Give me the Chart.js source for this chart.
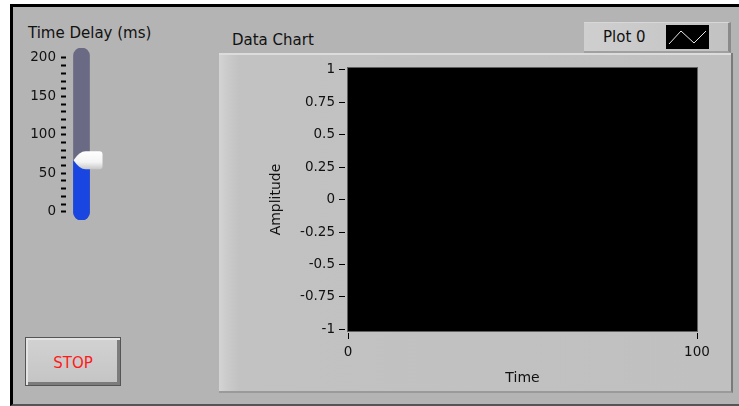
<!DOCTYPE html>
<html>
<head>
<meta charset="utf-8">
<script src="https://cdn.jsdelivr.net/npm/chart.js@4"></script>
<style>
  html, body { margin: 0; padding: 0; background: #ffffff; }
  body { width: 739px; height: 406px; position: relative; overflow: hidden; font-family: "DejaVu Sans", sans-serif; }
  #panel { position: absolute; left: 10px; top: 4px; width: 740px; height: 397px; background: #b4b4b4;
           border-left: 3px solid #000; border-top: 3px solid #000; border-bottom: 2px solid #555; }
  .lbl { position: absolute; font-size: 15px; color: #111; white-space: nowrap; }
  #frame { position: absolute; left: 219px; top: 53px; width: 514px; height: 340px;
           background: linear-gradient(to right, #d4d4d4 0px, #cbcbcb 8px, #c2c2c2 20px, #c0c0c0 100%);
           border-right: 2px solid #7a7a7a; border-bottom: 2px solid #9a9a9a; box-sizing: border-box; }
  #frameTop { position: absolute; left: 219px; top: 53px; width: 512px; height: 2px; background: #dcdcdc; }
  #legend { position: absolute; left: 584px; top: 22px; width: 147px; height: 31px; box-sizing: border-box;
            background: linear-gradient(to right, #cfcfcf, #c2c2c2); border-right: 3px solid #8a8a8a; border-top: 1px solid #d8d8d8; border-bottom: 2px solid #a0a0a0; }
  #legText { position: absolute; left: 19px; top: 5px; font-size: 15px; color: #111; }
  #legSwatch { position: absolute; left: 82px; top: 2px; width: 43px; height: 24px; background: #000; }
  #stop { position: absolute; left: 25px; top: 337px; width: 96px; height: 49px; box-sizing: border-box;
          background: linear-gradient(#d2d2d2, #c4c4c4); border: 1px solid #555;
          box-shadow: inset 2px 2px 0 #e4e4e4, inset -3px -3px 0 #7c7c7c; 
          color: #ff1a1a; font-size: 15px; text-align: center; line-height: 50px; }
  canvas { position: absolute; }
</style>
</head>
<body>
<div id="panel"></div>
<div class="lbl" id="sliderLabel" style="left:28px; top:24px;"></div>
<div id="frame"></div>
<div id="frameTop"></div>
<div class="lbl" id="chartLabel" style="left:232px; top:31px;"></div>
<div id="legend"><span id="legText"></span><canvas id="legSwatch" width="43" height="24"></canvas></div>
<div id="stop"></div>
<div style="position:absolute;left:20px;top:41px;width:90px;height:190px;"><canvas id="slider"></canvas></div>
<div style="position:absolute;left:219px;top:53px;width:514px;height:340px;"><canvas id="chart"></canvas></div>
<script>
// ---- data ----
const sliderTitle = "Time Delay (ms)";
const sliderTickValues = [0, 50, 100, 150, 200];
const sliderValue = [67];
const chartTitle = "Data Chart";
const seriesNames = ["Plot 0"];
const plot0Values = [];           // chart is empty
const xTickValues = [0, 100];
const yTickValues = [1, 0.75, 0.5, 0.25, 0, -0.25, -0.5, -0.75, -1];
const xAxisTitle = "Time";
const yAxisTitle = "Amplitude";
const buttonText = "STOP";

document.getElementById('sliderLabel').textContent = sliderTitle;
document.getElementById('chartLabel').textContent = chartTitle;
document.getElementById('legText').textContent = seriesNames[0];
document.getElementById('stop').textContent = buttonText;

// legend swatch: small white triangle-wave glyph
(function(){
  const c = document.getElementById('legSwatch').getContext('2d');
  c.fillStyle = '#000'; c.fillRect(0,0,43,24);
  c.strokeStyle = '#e8e8e8'; c.lineWidth = 1;
  c.beginPath(); c.moveTo(3,19); c.lineTo(15,6); c.lineTo(28,18); c.lineTo(40,6); c.stroke();
})();

const FONT = { family: "DejaVu Sans", size: 13.5 };
const TFONT = { family: "DejaVu Sans", size: 14 };

// ---- main chart ----
const plotBg = {
  id: 'plotBg',
  beforeDraw(chart) {
    const a = chart.chartArea, ctx = chart.ctx;
    ctx.save();
    ctx.fillStyle = '#000';
    ctx.fillRect(a.left, a.top, a.right - a.left, a.bottom - a.top);
    ctx.strokeStyle = '#606060'; ctx.lineWidth = 1;
    ctx.strokeRect(a.left - 0.5, a.top - 0.5, a.right - a.left + 1, a.bottom - a.top + 1);
    ctx.restore();
  }
};

new Chart(document.getElementById('chart'), {
  type: 'line',
  data: { datasets: [{ label: seriesNames[0], data: plot0Values, borderColor: '#ffffff', borderWidth: 1, pointRadius: 0 }] },
  options: {
    responsive: true, maintainAspectRatio: false, animation: false,
    layout: { padding: { left: 49, right: 36, top: 15, bottom: 0 } },
    plugins: { legend: { display: false }, tooltip: { enabled: false } },
    scales: {
      x: {
        type: 'linear', min: 0, max: 100,
        afterBuildTicks(s) { s.ticks = xTickValues.map(v => ({ value: v })); },
        afterFit(s) { s.height = 62; },
        grid: { display: true, drawOnChartArea: false, drawTicks: true, tickLength: 8, tickColor: '#000', tickWidth: 1, tickBorderDash: [0, 2, 6, 100] },
        border: { display: false },
        ticks: { color: '#111', font: FONT, padding: 5, maxRotation: 0 },
        title: { display: true, text: xAxisTitle, color: '#111', font: TFONT, padding: { top: 0, bottom: 6 } }
      },
      y: {
        type: 'linear', min: -1.013, max: 1.015,
        afterBuildTicks(s) { s.ticks = yTickValues.map(v => ({ value: v })); },
        afterFit(s) { s.width = 80; },
        grid: { display: true, drawOnChartArea: false, drawTicks: true, tickLength: 9, tickColor: '#000', tickWidth: 1, tickBorderDash: [6, 100] },
        border: { display: false },
        ticks: { color: '#111', font: FONT, padding: 4, callback: v => String(v) },
        title: { display: true, text: yAxisTitle, color: '#111', font: TFONT, padding: { top: 0, bottom: 0 } }
      }
    }
  },
  plugins: [plotBg]
});

// ---- slider (vertical fill bar) ----
const thumb = {
  id: 'thumb',
  afterDatasetsDraw(chart) {
    const ctx = chart.ctx;
    const y = chart.scales.y.getPixelForValue(sliderValue[0]);
    const x = chart.scales.x.getPixelForValue(0);
    const l = x - 8, r = x + 21, t = y - 9, b = y + 9;
    ctx.save();
    const g = ctx.createLinearGradient(0, t, 0, b);
    g.addColorStop(0, '#ffffff'); g.addColorStop(0.6, '#f4f4f4'); g.addColorStop(1, '#c8c8c8');
    ctx.fillStyle = g;
    ctx.beginPath();
    ctx.moveTo(l, y);
    ctx.quadraticCurveTo(l + 6, t, l + 12, t);
    ctx.lineTo(r - 3, t);
    ctx.quadraticCurveTo(r, t, r, t + 3);
    ctx.lineTo(r, b - 3);
    ctx.quadraticCurveTo(r, b, r - 3, b);
    ctx.lineTo(l + 12, b);
    ctx.quadraticCurveTo(l + 6, b, l, y);
    ctx.closePath();
    ctx.fill();
    ctx.restore();
  }
};

new Chart(document.getElementById('slider'), {
  type: 'bar',
  data: {
    labels: [sliderTitle],
    datasets: [
      { data: [[-10.8, 213]], backgroundColor: '#6a6a84', borderRadius: 8, borderSkipped: false, barThickness: 16, grouped: false, order: 2 },
      { data: [[-10.8, sliderValue[0]]], backgroundColor: '#1946e0', borderRadius: { topLeft: 0, topRight: 0, bottomLeft: 8, bottomRight: 8 }, borderSkipped: false, barThickness: 16, grouped: false, order: 1 }
    ]
  },
  options: {
    responsive: true, maintainAspectRatio: false, animation: false,
    layout: { padding: { left: 0, right: 15, top: 7, bottom: 11 } },
    plugins: { legend: { display: false }, tooltip: { enabled: false } },
    scales: {
      x: { display: false },
      y: {
        min: -10.8, max: 213,
        afterBuildTicks(s) { const t = []; for (let v = 0; v <= 200; v += 10) t.push({ value: v }); s.ticks = t; },
        afterFit(s) { s.width = 48; s.paddingTop = 0; s.paddingBottom = 0; },
        grid: { display: true, drawOnChartArea: false, drawTicks: true, tickLength: 7, tickColor: '#000', tickWidth: 2, tickBorderDash: [5, 100] },
        border: { display: false },
        ticks: { color: '#111', font: FONT, padding: 5, autoSkip: false,
                 callback: v => sliderTickValues.includes(v) ? String(v) : '' }
      }
    }
  },
  plugins: [thumb]
});
</script>
</body>
</html>
